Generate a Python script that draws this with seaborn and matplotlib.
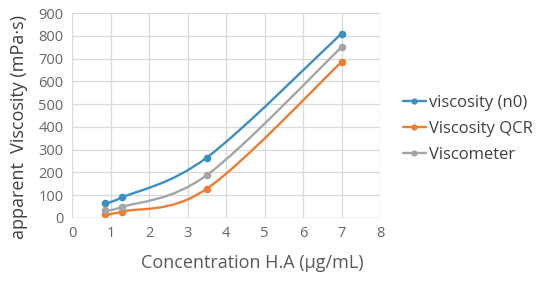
import numpy as np
import matplotlib
matplotlib.use('Agg')
import matplotlib.pyplot as plt
from matplotlib.path import Path
from matplotlib.patches import PathPatch
from matplotlib.lines import Line2D
import seaborn as sns

sns.set_style("whitegrid")
plt.rcParams['font.family'] = ['Open Sans', 'DejaVu Sans']

# values
conc = [0.85, 1.3, 3.5, 7.0]
visc_n0 = [65, 90, 265, 810]
visc_qcr = [15, 28, 128, 685]
viscometer = [35, 48, 188, 750]

series = [('viscosity (n0)', visc_n0, '#3a8fc4'),
          ('Viscosity QCR', visc_qcr, '#ed7d31'),
          ('Viscometer', viscometer, '#a5a5a5')]


def smooth_path(xs, ys):
	# excel-like smoothed line: cubic bezier through the points
	pts = np.column_stack([xs, ys]).astype(float)
	n = len(pts)
	verts = [pts[0]]
	codes = [Path.MOVETO]
	for i in range(n - 1):
		p0 = pts[max(i - 1, 0)]
		p1 = pts[i]
		p2 = pts[i + 1]
		p3 = pts[min(i + 2, n - 1)]
		c1 = p1 + (p2 - p0) / 6.0
		c2 = p2 - (p3 - p1) / 6.0
		verts += [c1, c2, p2]
		codes += [Path.CURVE4] * 3
	return Path(verts, codes)


fig = plt.figure(figsize=(5.5, 2.83), dpi=100)
ax = fig.add_axes([0.131, 0.23, 0.56, 0.724])

handles = []
for name, vals, col in series:
	ax.add_patch(PathPatch(smooth_path(conc, vals), facecolor='none', edgecolor=col, lw=1.7))
	sns.scatterplot(x=conc, y=vals, color=col, s=30, edgecolor=col, linewidth=0, ax=ax, zorder=3)
	handles.append(Line2D([0], [0], color=col, lw=1.7, marker='o', markersize=3.5, label=name))

ax.set_xlim(0, 8)
ax.set_ylim(0, 900)
ax.set_xticks(range(0, 9))
ax.set_yticks(range(0, 901, 100))
ax.grid(True, color='#d9d9d9', lw=0.9)
for s in ax.spines.values():
	s.set_visible(False)
ax.axhline(0, color='#d0d0d0', lw=1)
ax.tick_params(axis='both', labelsize=10.5, labelcolor='#666666', length=0, pad=6)

ax.set_xlabel('Concentration H.A (µg/mL)', fontsize=13, color='#595959')
ax.xaxis.set_label_coords(0.585, -0.175)
ax.set_ylabel('apparent  Viscosity (mPa·s)', fontsize=13, color='#404040')
ax.yaxis.set_label_coords(-0.143, 0.445)

fig.legend(handles=handles, loc='center left', bbox_to_anchor=(0.705, 0.545), frameon=False,
		   fontsize=12, labelcolor='#404040', handlelength=1.4, handletextpad=0.2, labelspacing=0.6)

fig.savefig('out.png', dpi=100)
